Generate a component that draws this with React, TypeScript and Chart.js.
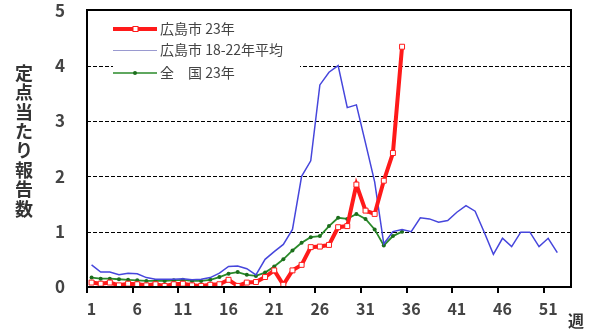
import React, { useEffect, useRef } from "react";
import { Chart, registerables } from "chart.js";

Chart.register(...registerables);

const weeks = ["1","2","3","4","5","6","7","8","9","10","11","12","13","14","15","16","17","18","19","20","21","22","23","24","25","26","27","28","29","30","31","32","33","34","35","36","37","38","39","40","41","42","43","44","45","46","47","48","49","50","51","52","53"];

const hiroshima23 = [0.08,0.06,0.08,0.03,0.06,0.05,0.03,0.05,0.02,0.05,0.06,0.03,0.02,0.04,0.05,0.13,0.02,0.08,0.09,0.18,0.30,0.04,0.30,0.40,0.72,0.73,0.76,1.08,1.10,1.85,1.38,1.32,1.92,2.42,4.34];

const hiroshimaAvg = [0.40,0.27,0.27,0.22,0.25,0.24,0.17,0.14,0.14,0.14,0.15,0.13,0.14,0.17,0.25,0.37,0.38,0.33,0.22,0.50,0.64,0.77,1.04,2.00,2.28,3.65,3.88,4.00,3.24,3.29,2.60,1.90,0.78,1.00,1.04,1.00,1.25,1.23,1.17,1.20,1.35,1.47,1.37,0.99,0.59,0.88,0.73,0.99,0.99,0.73,0.88,0.62];

const national23 = [0.17,0.15,0.15,0.14,0.13,0.12,0.11,0.11,0.11,0.12,0.13,0.11,0.11,0.13,0.18,0.24,0.27,0.22,0.20,0.26,0.37,0.50,0.66,0.80,0.90,0.92,1.10,1.25,1.23,1.32,1.23,1.04,0.75,0.92,1.00];

const seriesNames = ["広島市 23年", "広島市 18-22年平均", "全\u3000国 23年"];
const yTitle = ["定", "点", "当", "た", "り", "報", "告", "数"];
const xUnit = "週";
const dashedValues = [1, 2, 3, 4];
const tickEvery = 5;

const RED = "#ff1a1a";
const BLUE = "#4646dc";
const GREEN = "#2a8a2a";
const GREEN_DARK = "#1c6e1c";
const FRAME = "rgb(0,0,0)";
const FONT = "'Noto Sans CJK JP', 'Noto Sans', sans-serif";

const decorPlugin = {
  id: "decor",
  beforeDatasetsDraw(chart: any) {
    const { ctx, chartArea: a, scales } = chart;
    const y = scales.y;
    ctx.save();
    ctx.strokeStyle = "#000";
    ctx.lineWidth = 1.2;
    ctx.setLineDash([4, 2]);
    for (const v of dashedValues) {
      const py = Math.round(y.getPixelForValue(v)) + 0.5;
      ctx.beginPath();
      ctx.moveTo(a.left, py);
      ctx.lineTo(a.right, py);
      ctx.stroke();
    }
    ctx.restore();
  },
  afterDraw(chart: any) {
    const { ctx, chartArea: a, scales } = chart;
    const x = scales.x;
    const y = scales.y;
    ctx.save();
    ctx.setLineDash([]);
    const L = Math.round(a.left), R = Math.round(a.right);
    const T = Math.round(y.getPixelForValue(5));
    const B = Math.round(y.getPixelForValue(0));

    // legend box
    const lx = L + 26;
    ctx.fillStyle = "#fff";
    ctx.fillRect(lx, T + 5, 187, 68);
    const rows = [T + 19, T + 40, T + 63];
    const x0 = lx, x1 = lx + 44;
    ctx.strokeStyle = RED;
    ctx.lineWidth = 4;
    ctx.beginPath(); ctx.moveTo(x0, rows[0]); ctx.lineTo(x1, rows[0]); ctx.stroke();
    ctx.fillStyle = "#fff";
    ctx.lineWidth = 1;
    ctx.fillRect(x0 + 20, rows[0] - 2.5, 5, 5);
    ctx.strokeRect(x0 + 20, rows[0] - 2.5, 5, 5);
    ctx.strokeStyle = "#9a9ad0";
    ctx.lineWidth = 1;
    ctx.beginPath(); ctx.moveTo(x0, rows[1] + 0.5); ctx.lineTo(x1, rows[1] + 0.5); ctx.stroke();
    ctx.strokeStyle = GREEN;
    ctx.lineWidth = 1.5;
    ctx.beginPath(); ctx.moveTo(x0, rows[2]); ctx.lineTo(x1, rows[2]); ctx.stroke();
    ctx.fillStyle = GREEN_DARK;
    ctx.beginPath(); ctx.arc(x0 + 22, rows[2], 2, 0, Math.PI * 2); ctx.fill();
    ctx.fillStyle = "#444";
    ctx.font = `14px ${FONT}`;
    ctx.textBaseline = "middle";
    ctx.textAlign = "left";
    seriesNames.forEach((s, i) => ctx.fillText(s, x1 + 3, rows[i]));

    // frame
    ctx.fillStyle = FRAME;
    ctx.fillRect(L - 1, T - 1, R - L + 2, 2);
    ctx.fillRect(L - 1, B - 1, R - L + 2, 2);
    ctx.fillRect(L - 1, T - 1, 2, B - T + 2);
    ctx.fillRect(R - 1, T - 1, 2, B - T + 2);

    // x tick marks at category boundaries
    const half = (x.getPixelForValue(1) - x.getPixelForValue(0)) / 2;
    for (let i = 0; i < weeks.length; i += tickEvery) {
      const px = Math.round(x.getPixelForValue(i) - half);
      ctx.fillRect(px - 1, B, 2, 6);
    }

    // y title and unit
    ctx.fillStyle = "#333";
    ctx.font = `bold 18px ${FONT}`;
    ctx.textAlign = "center";
    ctx.textBaseline = "middle";
    yTitle.forEach((c, i) => ctx.fillText(c, 24, 73 + i * 19.4));
    ctx.font = `bold 16px ${FONT}`;
    ctx.fillText(xUnit, 576, 321);
    ctx.restore();
  },
};

export default function App() {
  const ref = useRef<HTMLCanvasElement | null>(null);
  useEffect(() => {
    if (!ref.current) return;
    const chart = new Chart(ref.current, {
      type: "line",
      data: {
        labels: weeks,
        datasets: [
          {
            label: seriesNames[0],
            data: hiroshima23,
            borderColor: RED,
            borderWidth: 4,
            pointStyle: "rect",
            pointRadius: 3.5,
            pointBorderWidth: 1,
            pointBorderColor: RED,
            pointBackgroundColor: "#fff",
            tension: 0,
          },
          {
            label: seriesNames[1],
            data: hiroshimaAvg,
            borderColor: BLUE,
            borderWidth: 1.5,
            pointRadius: 0,
            tension: 0,
          },
          {
            label: seriesNames[2],
            data: national23,
            borderColor: GREEN,
            borderWidth: 1.8,
            pointRadius: 2,
            pointBorderWidth: 0,
            pointBackgroundColor: GREEN_DARK,
            tension: 0,
          },
        ],
      },
      options: {
        responsive: false,
        animation: false,
        events: [],
        layout: { padding: { left: 55, right: 29, top: 4, bottom: 0 } },
        plugins: { legend: { display: false }, tooltip: { enabled: false } },
        scales: {
          x: {
            type: "category",
            offset: true,
            afterFit: (s: any) => { s.height = 43; },
            grid: { display: false },
            border: { display: false },
            ticks: {
              autoSkip: false,
              maxRotation: 0,
              padding: 4,
              color: "#444",
              font: { family: FONT, size: 16, weight: "bold" },
              callback: (_v: any, i: number) => (i % tickEvery === 0 ? weeks[i] : ""),
            },
          },
          y: {
            min: 0,
            max: 5,
            afterFit: (s: any) => { s.width = 32; },
            grid: { display: false, drawTicks: false },
            border: { display: false },
            ticks: {
              stepSize: 1,
              padding: 0,
              crossAlign: "far",
              color: "#444",
              font: { family: FONT, size: 17, weight: "bold" },
            },
          },
        },
      },
      plugins: [decorPlugin],
    } as any);
    return () => chart.destroy();
  }, []);
  return (
    <div style={{ position: "absolute", left: 0, top: 0, width: 600, height: 330, background: "#fff" }}>
      <canvas ref={ref} width={600} height={330} />
    </div>
  );
}
